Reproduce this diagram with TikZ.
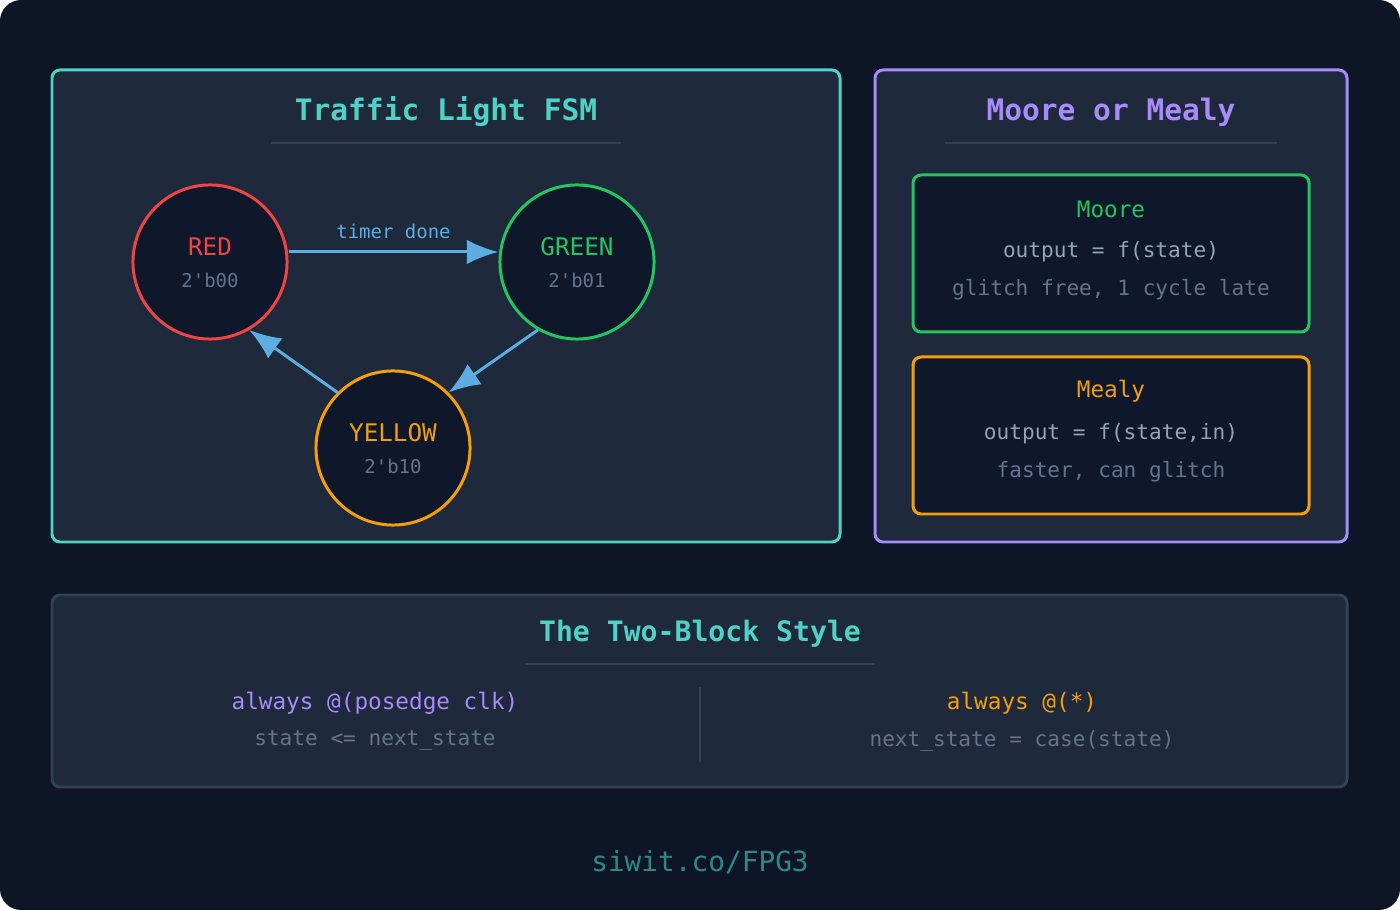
\documentclass[tikz,border=0pt]{standalone}
\usepackage{fontspec}
\setmonofont{DejaVu Sans Mono}
\usetikzlibrary{arrows.meta}
\definecolor{bgc}{HTML}{0D1526}
\definecolor{panel}{HTML}{1E293B}
\definecolor{inner}{HTML}{0F172A}
\definecolor{teal}{HTML}{4FD1C5}
\definecolor{purp}{HTML}{A78BFA}
\definecolor{grn}{HTML}{22C55E}
\definecolor{org}{HTML}{F59E0B}
\definecolor{redc}{HTML}{EF4444}
\definecolor{arr}{HTML}{5DADE2}
\definecolor{dim}{HTML}{64748B}
\definecolor{lite}{HTML}{94A3B8}
\definecolor{rule}{HTML}{334155}
\definecolor{url}{HTML}{2C8A86}

\begin{document}
\begin{tikzpicture}[
  x=0.01cm, y=-0.01cm,
  font=\ttfamily,
  box/.style={line width=0.85pt, rounded corners=2.3pt},
  state/.style={circle, draw, line width=0.85pt, fill=inner, minimum size=1.54cm, inner sep=0pt},
  title/.style={font=\ttfamily\bfseries\fontsize{8.4}{10}\selectfont, text=teal},
  big/.style={font=\ttfamily\fontsize{6.9}{8}\selectfont},
  mid/.style={font=\ttfamily\fontsize{6.0}{8}\selectfont},
  code/.style={font=\ttfamily\fontsize{6.45}{8}\selectfont},
  small/.style={font=\ttfamily\fontsize{5.4}{7}\selectfont},
  flow/.style={draw=arr, line width=0.85pt, -{Latex[length=9pt,width=7pt]}},
]
\useasboundingbox (0,0) rectangle (1400,910);
\fill [bgc, rounded corners=6pt] (0,0) rectangle (1400,910);

% FSM panel
\draw [box, draw=teal, fill=panel] (52,70) rectangle (840,542);
\node [title] (fsmtitle) at (446,112) {Traffic Light FSM};
\draw [rule, line width=0.5pt] (271,143) -- (621,143);

\node [state, draw=redc] (red) at (210,262) {};
\node [state, draw=grn] (green) at (577,262) {};
\node [state, draw=org] (yellow) at (393,448) {};

\node [big, text=redc] (redname) at (210,247) {RED};
\node [small, text=dim] (redcode) at (210,280) {2'b00};
\node [big, text=grn] (greenname) at (577,247) {GREEN};
\node [small, text=dim] (greencode) at (577,280) {2'b01};
\node [big, text=org] (yellowname) at (393,433) {YELLOW};
\node [small, text=dim] (yellowcode) at (393,466) {2'b10};

\draw [flow] ([yshift=0.1cm]red.east) -- node [small, text=arr, above=0pt] (timer) {timer done} ([yshift=0.1cm]green.west);
\draw [flow] (green.240) -- (yellow.45);
\draw [flow] (yellow.135) -- (red.300);

% Moore / Mealy panel
\draw [box, draw=purp, fill=panel] (875,70) rectangle (1347,542);
\node [title, text=purp] (mmtitle) at (1111,112) {Moore or Mealy};
\draw [rule, line width=0.5pt] (945,143) -- (1277,143);

\draw [box, draw=grn, fill=inner] (913,175) rectangle (1309,332);
\node [code, text=grn] (moore) at (1111,209) {Moore};
\node [mid, text=lite] (mooreout) at (1111,252) {output = f(state)};
\node [mid, text=dim] (moorenote) at (1111,290) {glitch free, 1 cycle late};

\draw [box, draw=org, fill=inner] (913,357) rectangle (1309,514);
\node [code, text=org] (mealy) at (1111,391) {Mealy};
\node [mid, text=lite] (mealyout) at (1111,434) {output = f(state,in)};
\node [mid, text=dim] (mealynote) at (1111,472) {faster, can glitch};

% two-block panel
\draw [box, draw=rule, fill=panel] (52,595) rectangle (1347,787);
\node [title, font=\ttfamily\bfseries\fontsize{8.0}{10}\selectfont] (tbtitle) at (700,634) {The Two-Block Style};
\draw [rule, line width=0.5pt] (525,664) -- (875,664);
\draw [rule, line width=0.5pt] (700,687) -- (700,762);

\node [code, text=purp] (seq) at (375,703) {always @(posedge clk)};
\node [mid, text=dim] (seqbody) at (375,741) {state <= next\_state};
\node [code, text=org] (comb) at (1022,703) {always @(*)};
\node [mid, text=dim] (combbody) at (1022,741) {next\_state = case(state)};

\node [font=\ttfamily\fontsize{7.9}{9}\selectfont, text=url] (link) at (700,862) {siwit.co/FPG3};
\end{tikzpicture}
\end{document}
